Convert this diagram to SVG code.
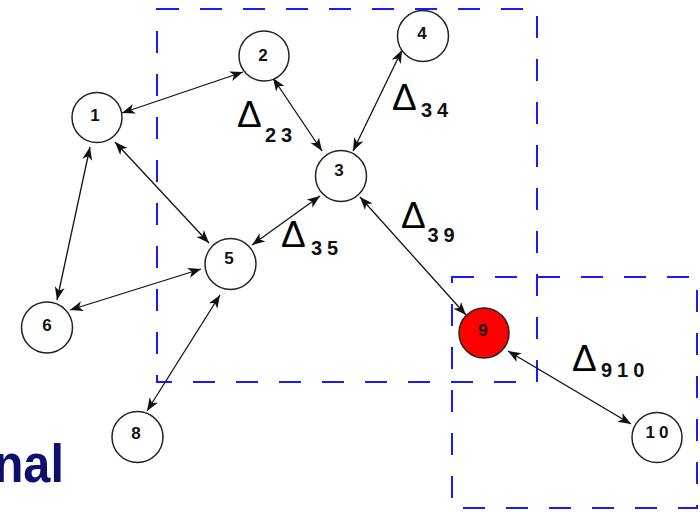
<svg xmlns="http://www.w3.org/2000/svg" width="700" height="513" viewBox="0 0 700 513">
<style>
.box{fill:none;stroke:#1a1aff;stroke-width:2;stroke-dasharray:22 21}
.node circle{fill:#fff;stroke:#222;stroke-width:1.5}
.node text{font-family:"Liberation Sans",Arial,sans-serif;font-weight:bold;font-size:17px;fill:#111;text-anchor:middle}
.edge{fill:none;stroke:#111;stroke-width:1.3;marker-start:url(#ah);marker-end:url(#ah)}
.delta{font-family:"Liberation Sans",Arial,sans-serif;font-size:37px;fill:#000}
.sub{font-family:"Liberation Sans",Arial,sans-serif;font-weight:bold;font-size:20px;fill:#111;letter-spacing:5px}
</style>
<defs>
<marker id="ah" markerUnits="userSpaceOnUse" markerWidth="14" markerHeight="11" viewBox="0 0 14 11" refX="13" refY="5.5" orient="auto-start-reverse">
<path d="M0,0.5 L13,5.5 L0,10.5 L3.5,5.5 z" fill="#111"/>
</marker>
</defs>
<rect class="box" x="157" y="9" width="380" height="373"/>
<rect class="box" x="452" y="277" width="245" height="231"/>
<g id="connectors">
<path class="edge" d="M122,113 L243,72"/>
<path class="edge" d="M90,147 L57,300"/>
<path class="edge" d="M115,142 L209,243"/>
<path class="edge" d="M70,310 L201,269"/>
<path class="edge" d="M220,295 L147,411"/>
<path class="edge" d="M273,78 L322,151"/>
<path class="edge" d="M402,50 L353,151"/>
<path class="edge" d="M320,196 L252,245"/>
<path class="edge" d="M360,197 L466,315"/>
<path class="edge" d="M508,351 L631,424"/>
</g>
<g id="node1" class="node"><circle cx="97" cy="117.5" r="25"/><text x="95" y="121">1</text></g>
<g id="node2" class="node"><circle cx="264" cy="56" r="25"/><text x="263" y="61">2</text></g>
<g id="node3" class="node"><circle cx="341" cy="176" r="25.5"/><text x="339" y="176">3</text></g>
<g id="node4" class="node"><circle cx="423" cy="36" r="25.5"/><text x="422" y="39">4</text></g>
<g id="node5" class="node"><circle cx="230.5" cy="264" r="25.5"/><text x="229" y="264">5</text></g>
<g id="node6" class="node"><circle cx="47" cy="327.5" r="25.5"/><text x="47" y="331">6</text></g>
<g id="node8" class="node"><circle cx="137.5" cy="437" r="25.5"/><text x="136" y="439">8</text></g>
<g id="node9" class="node"><circle cx="484" cy="333" r="25" style="fill:#ff0000"/><text x="483" y="336">9</text></g>
<g id="node10" class="node"><circle cx="657" cy="437.5" r="25"/><text x="659" y="438" style="letter-spacing:4px">10</text></g>
<g id="labels">
<text class="delta" x="237" y="127">Δ</text><text class="sub" x="265" y="142">23</text>
<text class="delta" x="392" y="110">Δ</text><text class="sub" x="421" y="117">34</text>
<text class="delta" x="281" y="247">Δ</text><text class="sub" x="311" y="255">35</text>
<text class="delta" x="401" y="228">Δ</text><text class="sub" x="427.5" y="242">39</text>
<text class="delta" x="572" y="371">Δ</text><text class="sub" x="601" y="377">910</text>
</g>
<text x="71" y="482" transform="scale(0.9,1)" text-anchor="end" style="font-family:'Liberation Sans',Arial,sans-serif;font-weight:bold;font-size:54px;fill:#0f0f70">nal</text>
</svg>
